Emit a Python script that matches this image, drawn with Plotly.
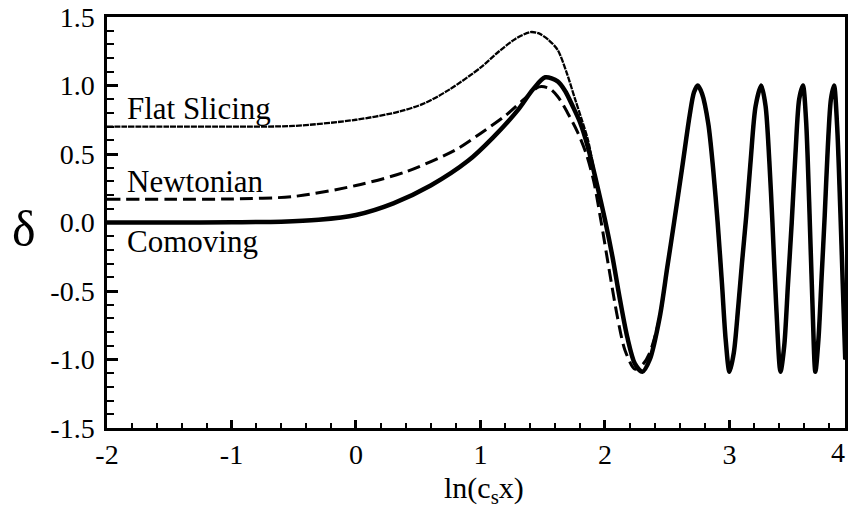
import plotly.graph_objects as go

# ---- data ----
comoving_x = [-2.0, -1.5, -1.0, -0.6, -0.3, 0.0, 0.3, 0.6, 0.9, 1.1, 1.3, 1.42, 1.52,
              1.62, 1.68, 1.74, 1.80, 1.86, 1.93, 2.0, 2.06, 2.12, 2.18, 2.24, 2.30,
              2.36, 2.44, 2.50, 2.555, 2.62, 2.68, 2.715, 2.745, 2.78, 2.83, 2.87,
              2.905, 2.94, 2.97, 3.0, 3.035, 3.07, 3.10, 3.135, 3.17, 3.21, 3.255,
              3.29, 3.32, 3.345, 3.375, 3.41, 3.44, 3.47, 3.50, 3.53, 3.56, 3.59,
              3.615, 3.64, 3.665, 3.69, 3.715, 3.74, 3.765, 3.79, 3.815, 3.84, 3.865,
              3.89, 3.91, 3.93]
comoving_y = [0.0, 0.0, 0.002, 0.006, 0.02, 0.055, 0.14, 0.27, 0.45, 0.62, 0.82, 0.97, 1.06,
              1.03, 0.96, 0.85, 0.73, 0.56, 0.30, 0.02, -0.25, -0.56, -0.84, -1.03, -1.09,
              -1.0, -0.69, -0.33, 0.0, 0.40, 0.78, 0.95, 1.0, 0.94, 0.72, 0.38,
              0.0, -0.45, -0.86, -1.09, -0.95, -0.62, -0.30, 0.05, 0.45, 0.85, 1.0,
              0.85, 0.45, 0.0, -0.6, -1.09, -0.9, -0.45, 0.0, 0.5, 0.9, 1.0,
              0.75, 0.15, -0.55, -1.09, -0.85, -0.4, 0.05, 0.55, 0.9, 1.0, 0.7,
              0.1, -0.45, -1.0]

newtonian_x = [-2.0, -1.5, -1.0, -0.5, 0.0, 0.4, 0.8, 1.0, 1.2, 1.35, 1.47, 1.55, 1.62,
               1.70, 1.78, 1.85, 1.91, 1.97, 2.04, 2.10, 2.16, 2.24, 2.30, 2.36, 2.44,
               2.50, 2.555, 2.62, 2.68, 2.715, 2.745, 2.78, 2.83, 2.87, 2.905, 2.94,
               2.97, 3.0, 3.035, 3.07, 3.10, 3.135, 3.17, 3.21, 3.255, 3.29, 3.32,
               3.345, 3.375, 3.41, 3.44, 3.47, 3.50, 3.53, 3.56, 3.59, 3.615, 3.64,
               3.665, 3.69, 3.715, 3.74, 3.765, 3.79, 3.815, 3.84, 3.865, 3.89, 3.91,
               3.93]
newtonian_y = [0.17, 0.17, 0.172, 0.19, 0.27, 0.37, 0.53, 0.65, 0.78, 0.90, 0.99, 0.98, 0.92,
               0.80, 0.66, 0.50, 0.30, 0.0, -0.38, -0.69, -0.93, -1.07, -1.04, -0.95, -0.69,
               -0.33, 0.0, 0.40, 0.78, 0.95, 1.0, 0.94, 0.72, 0.38, 0.0, -0.45,
               -0.86, -1.09, -0.95, -0.62, -0.30, 0.05, 0.45, 0.85, 1.0, 0.85, 0.45,
               0.0, -0.6, -1.09, -0.9, -0.45, 0.0, 0.5, 0.9, 1.0, 0.75, 0.15,
               -0.55, -1.09, -0.85, -0.4, 0.05, 0.55, 0.9, 1.0, 0.7, 0.1, -0.45,
               -1.0]

flat_x = [-2.0, -1.5, -1.0, -0.5, 0.0, 0.35, 0.55, 0.75, 1.0, 1.15, 1.28, 1.40, 1.47,
          1.55, 1.62, 1.69, 1.76, 1.81, 1.864, 1.93, 2.0, 2.06, 2.12, 2.18, 2.24, 2.30,
          2.36, 2.44, 2.50, 2.555, 2.62, 2.68, 2.715, 2.745, 2.78, 2.83, 2.87, 2.905,
          2.94, 2.97, 3.0, 3.035, 3.07, 3.10, 3.135, 3.17, 3.21, 3.255, 3.29, 3.32,
          3.345, 3.375, 3.41, 3.44, 3.47, 3.50, 3.53, 3.56, 3.59, 3.615, 3.64, 3.665,
          3.69, 3.715, 3.74, 3.765, 3.79, 3.815, 3.84, 3.865, 3.89, 3.91, 3.93]
flat_y = [0.70, 0.70, 0.70, 0.705, 0.75, 0.81, 0.87, 0.97, 1.13, 1.25, 1.34, 1.39, 1.38,
          1.33, 1.26, 1.10, 0.90, 0.76, 0.60, 0.30, 0.02, -0.25, -0.56, -0.84, -1.03, -1.09,
          -1.0, -0.69, -0.33, 0.0, 0.40, 0.78, 0.95, 1.0, 0.94, 0.72, 0.38, 0.0,
          -0.45, -0.86, -1.09, -0.95, -0.62, -0.30, 0.05, 0.45, 0.85, 1.0, 0.85, 0.45,
          0.0, -0.6, -1.09, -0.9, -0.45, 0.0, 0.5, 0.9, 1.0, 0.75, 0.15, -0.55,
          -1.09, -0.85, -0.4, 0.05, 0.55, 0.9, 1.0, 0.7, 0.1, -0.45, -1.0]

x_tick_vals = [-2, -1, 0, 1, 2, 3]
x_tick_text = ["-2", "-1", "0", "1", "2", "3"]
y_tick_vals = [-1.5, -1.0, -0.5, 0.0, 0.5, 1.0, 1.5]
y_tick_text = ["-1.5", "-1.0", "-0.5", "0.0", "0.5", "1.0", "1.5"]

curve_labels = ["Flat Slicing", "Newtonian", "Comoving"]
curve_label_y = [0.835, 0.30, -0.135]

FONT = "Liberation Serif, Times New Roman, serif"

fig = go.Figure()
fig.add_trace(go.Scatter(x=flat_x, y=flat_y, mode="lines",
                         line=dict(color="black", width=2.3, dash="6px,1px", shape="spline", smoothing=0.8)))
fig.add_trace(go.Scatter(x=newtonian_x, y=newtonian_y, mode="lines",
                         line=dict(color="black", width=3, dash="13px,6px", shape="spline", smoothing=0.8)))
fig.add_trace(go.Scatter(x=comoving_x, y=comoving_y, mode="lines",
                         line=dict(color="black", width=4.5, shape="spline", smoothing=0.8)))

for txt, yy in zip(curve_labels, curve_label_y):
    fig.add_annotation(x=-1.856, y=yy, xref="x", yref="y", text=txt, showarrow=False,
                       xanchor="left", yanchor="middle",
                       font=dict(family=FONT, size=31, color="black"))

# "4" tick label at the right edge (the reference is cropped just past x = 4)
fig.add_annotation(x=0.99, y=-0.06, xref="paper", yref="paper", text="4", showarrow=False,
                   xanchor="center", yanchor="middle",
                   font=dict(family=FONT, size=28, color="black"))
fig.add_annotation(x=0.511, y=-0.15, xref="paper", yref="paper",
                   text="ln(c<sub>s</sub>x)", showarrow=False,
                   xanchor="center", yanchor="middle",
                   font=dict(family=FONT, size=30, color="black"))
fig.add_annotation(x=-0.112, y=0.485, xref="paper", yref="paper", text="δ", showarrow=False,
                   xanchor="center", yanchor="middle",
                   font=dict(family=FONT, size=50, color="black"))

fig.update_layout(
    width=848, height=509,
    margin=dict(l=107, r=0, t=17, b=81),
    paper_bgcolor="white", plot_bgcolor="white",
    showlegend=False,
    font=dict(family=FONT, size=28, color="black"),
    xaxis=dict(range=[-2, 3.928], tickvals=x_tick_vals, ticktext=x_tick_text,
               showgrid=False, zeroline=False, showline=True, linecolor="black",
               linewidth=2.5, mirror=True, ticks="inside", ticklen=8, tickwidth=2.5,
               tickcolor="black", ticklabelstandoff=0,
               minor=dict(dtick=0.2, tick0=0, ticks="inside", ticklen=5, tickwidth=2,
                          tickcolor="black", showgrid=False)),
    yaxis=dict(range=[-1.5, 1.5], tickvals=y_tick_vals, ticktext=y_tick_text,
               showgrid=False, zeroline=False, showline=True, linecolor="black",
               linewidth=2.5, mirror=True, ticks="inside", ticklen=11, tickwidth=2.5,
               tickcolor="black", ticklabelstandoff=4,
               minor=dict(dtick=0.1, tick0=0, ticks="inside", ticklen=7, tickwidth=2,
                          tickcolor="black", showgrid=False)),
)

fig.write_html("out.html")
